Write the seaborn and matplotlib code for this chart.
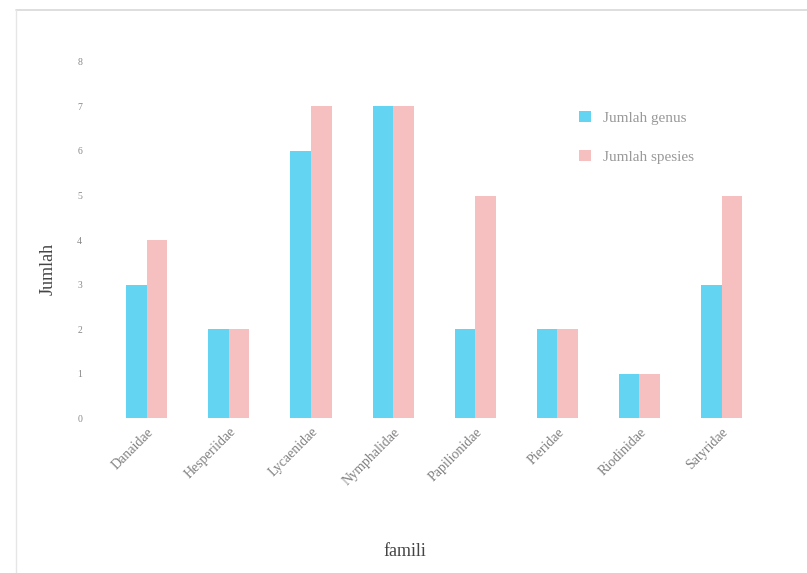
import matplotlib
matplotlib.use("Agg")
import matplotlib.pyplot as plt
from matplotlib.lines import Line2D
import pandas as pd
import seaborn as sns

famili = ["Danaidae", "Hesperiidae", "Lycaenidae", "Nymphalidae",
          "Papilionidae", "Pieridae", "Riodinidae", "Satyridae"]
jumlah_genus = [3, 2, 6, 7, 2, 2, 1, 3]
jumlah_spesies = [4, 2, 7, 7, 5, 2, 1, 5]
series_names = ["Jumlah genus", "Jumlah spesies"]
y_ticks = [0, 1, 2, 3, 4, 5, 6, 7, 8]

df = pd.DataFrame({
    "famili": famili * 2,
    "Jumlah": jumlah_genus + jumlah_spesies,
    "seri": [series_names[0]] * len(famili) + [series_names[1]] * len(famili),
})

sns.set_theme(style="white")
plt.rcParams["font.family"] = ["Liberation Serif", "DejaVu Serif"]

fig = plt.figure(figsize=(8.07, 5.73), dpi=100)
ax = fig.add_axes([0.131, 0.270, 0.814, 0.622])

palette = {series_names[0]: "#63D5F3", series_names[1]: "#F7C0C0"}
sns.barplot(data=df, x="famili", y="Jumlah", hue="seri", palette=palette,
            width=0.5, saturation=1, ax=ax, linewidth=0)

ax.set_ylim(0, 8)
ax.set_xlim(-0.5, len(famili) - 0.5)
ax.set_yticks(y_ticks)
ax.set_yticklabels([str(t) for t in y_ticks], fontsize=7, color="#888888")
ax.set_xticks(range(len(famili)))
ax.set_xticklabels(famili, rotation=45, ha="right", rotation_mode="anchor",
                   fontsize=10, color="#808080")
ax.tick_params(axis="y", length=0, pad=17)
ax.tick_params(axis="x", length=0, pad=5)
ax.set_xlabel("famili", fontsize=13, color="#444444")
ax.set_ylabel("Jumlah", fontsize=13, color="#444444")
ax.xaxis.set_label_coords(0.455, -0.35)
ax.yaxis.set_label_coords(-0.075, 0.42)
for s in ax.spines.values():
    s.set_visible(False)

ax.legend(title=None, frameon=False, loc="upper left",
          bbox_to_anchor=(0.70, 0.90), fontsize=11, labelspacing=1.6,
          handlelength=0.75, handleheight=0.75, handletextpad=0.8,
          labelcolor="#999999")

# light chart border
fig.add_artist(Line2D([0.02, 1.0], [0.982, 0.982], color="#d8d8d8", lw=1.2,
                      transform=fig.transFigure))
fig.add_artist(Line2D([0.02, 0.02], [0.0, 0.982], color="#e6e6e6", lw=1.0,
                      transform=fig.transFigure))

fig.savefig("out.png", dpi=100)
